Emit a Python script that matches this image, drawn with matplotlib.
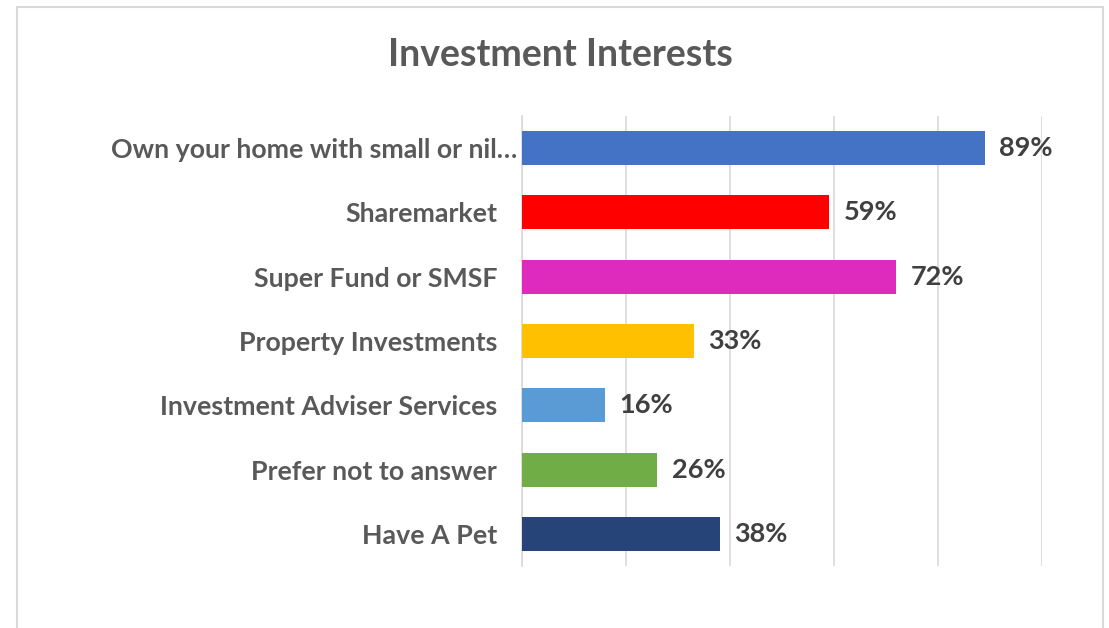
import matplotlib.pyplot as plt
import matplotlib.transforms as mtransforms
from matplotlib.patches import Rectangle

# survey answers, top to bottom
categories = ["Own your home with small or nil\u2026", "Sharemarket", "Super Fund or SMSF",
              "Property Investments", "Investment Adviser Services",
              "Prefer not to answer", "Have A Pet"]
values = [89, 59, 72, 33, 16, 26, 38]
colors = ["#4472C4", "#FF0000", "#DE2BBE", "#FFC000", "#5B9BD5", "#70AD47", "#264478"]

plt.rcParams['font.family'] = ['Lato', 'DejaVu Sans']

fig = plt.figure(figsize=(11.09, 6.28), dpi=100)
# outer chart frame
fig.patches.append(Rectangle((17 / 1109, -0.05), 1086 / 1109, 1.05 - 7 / 628,
                             transform=fig.transFigure, fill=False,
                             edgecolor="#d9d9d9", linewidth=1.5))

ax = fig.add_axes([522 / 1109, 1 - 566 / 628, 520 / 1109, 450 / 628])
y = range(len(categories))
ax.barh(y, values, height=0.53, color=colors, zorder=3)

for i, v in enumerate(values):
    ax.text(v + 2.8, i, f"{v}%", va="center", ha="left", fontsize=19.5,
            fontweight="bold", color="#404040")

ax.set_xlim(0, 100)
ax.set_ylim(len(categories) - 0.5, -0.5)
ax.set_xticks(range(0, 101, 20))
ax.set_xticklabels([])
ax.tick_params(axis="x", length=0)
ax.tick_params(axis="y", length=0, pad=18)
ax.set_yticks(list(y))
ax.set_yticklabels(categories, fontsize=19.3, fontweight="bold", color="#595959")
# the truncated label runs closer to the axis
first = ax.get_yticklabels()[0]
first.set_transform(first.get_transform() +
                    mtransforms.ScaledTranslation(20 / 100, 0, fig.dpi_scale_trans))
ax.grid(axis="x", color="#d9d9d9", linewidth=1.2, zorder=0)
for s in ["top", "right", "bottom"]:
    ax.spines[s].set_visible(False)
ax.spines["left"].set_color("#d9d9d9")
ax.spines["left"].set_linewidth(1.2)

fig.text(560 / 1109, 1 - 55 / 628, "Investment Interests", ha="center", va="center",
         fontsize=27, fontweight="bold", color="#595959")

fig.savefig("out.png", dpi=100)
